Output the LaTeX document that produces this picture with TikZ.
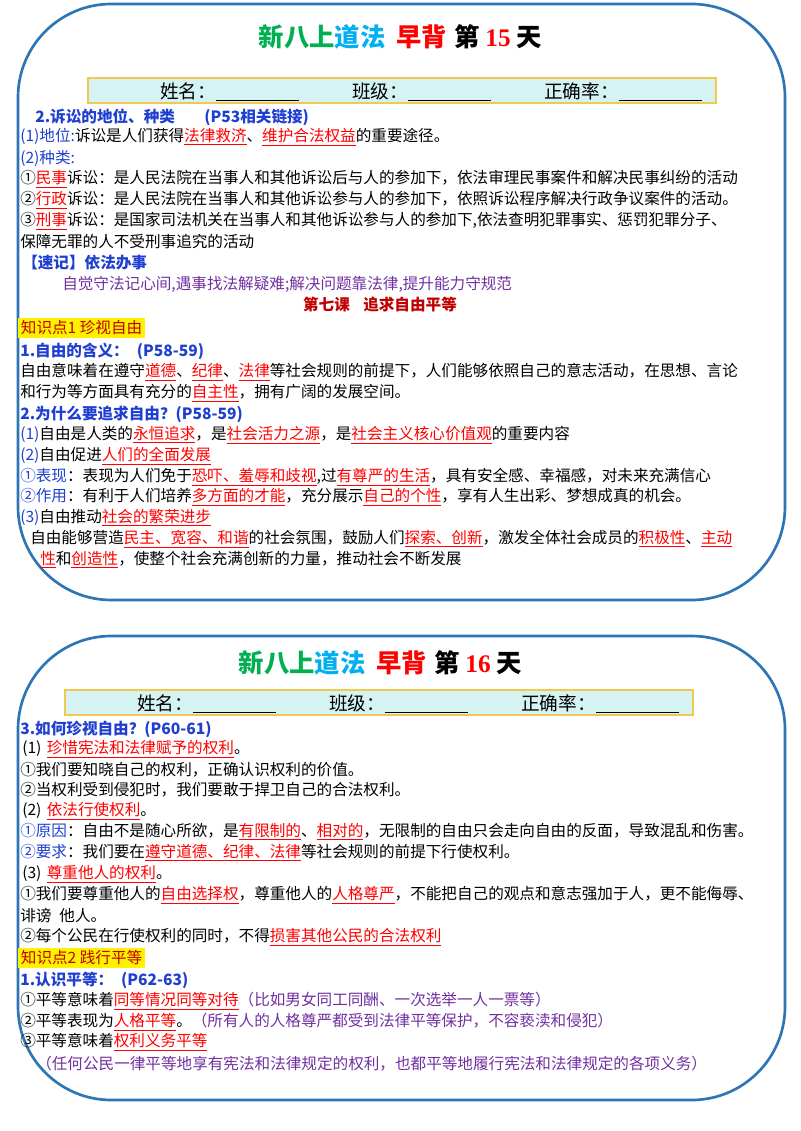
\documentclass[tikz,border=0pt]{standalone}
\usepackage{fontspec}
\setmainfont{Noto Sans CJK SC}
\usepackage{xcolor}
\usepackage{tikz}
\usetikzlibrary{calc}

\definecolor{frameblue}{HTML}{2E75B6}
\definecolor{headblue}{HTML}{1F3FD0}
\definecolor{notepurple}{HTML}{7030A0}
\definecolor{lessonred}{HTML}{C00000}
\definecolor{titlegreen}{HTML}{00B050}
\definecolor{titlecyan}{HTML}{00B0F0}
\definecolor{barfill}{HTML}{D5F3F3}
\definecolor{bargold}{HTML}{F2C94C}

\newcommand{\keyw}[1]{\textcolor{red}{\underline{#1}}}
\newcommand{\blank}{\underline{\hspace{62pt}}}
\newcommand{\daytitle}[1]{\textcolor{titlegreen}{新八上}\textcolor{titlecyan}{道法}\hspace{8pt}\textcolor{red}{早背}\hspace{6pt}第\hspace{4pt}\textcolor{red}{\fontspec{Liberation Serif}#1}\hspace{4pt}天}

\tikzset{
  line/.style={anchor=west, inner sep=0pt, font=\fontsize{11.7}{13}\selectfont},
  head/.style={line, text=headblue, font=\fontsize{11.7}{13}\selectfont\bfseries},
  note/.style={line, text=notepurple},
  tag/.style={line, fill=yellow, text=lessonred, inner sep=2pt},
  frame/.style={draw=frameblue, line width=2pt, rounded corners=70pt},
  namebar/.style={draw=bargold, line width=1.2pt, fill=barfill},
  title/.style={font=\fontsize{19}{22}\selectfont\bfseries}
}

\begin{document}
\begin{tikzpicture}[x=0.75pt, y=-0.75pt]
  \useasboundingbox (0,0) rectangle (800,1131);

  % first day
  \draw[frame] (18,4) rectangle (785,600);
  \node[title] (t15) at (400,37) {\daytitle{15}};
  \draw[namebar] (88,78) rectangle (716,103);
  \node[line, font=\fontsize{14}{16}\selectfont] (n15) at (160,92) {姓名：\blank\hspace{40pt}班级：\blank\hspace{40pt}正确率：\blank};
  \node[head] (a1) at (35,117) {2.诉讼的地位、种类\hspace{22pt}(P53相关链接)};
  \node[line] (a2) at (20,137) {\textcolor{headblue}{(1)地位:}诉讼是人们获得\keyw{法律救济}、\keyw{维护合法权益}的重要途径。};
  \node[line] (a3) at (20,158) {\textcolor{headblue}{(2)种类:}};
  \node[line] (a4) at (20,179) {①\keyw{民事}诉讼：是人民法院在当事人和其他诉讼后与人的参加下，依法审理民事案件和解决民事纠纷的活动};
  \node[line] (a5) at (20,200) {②\keyw{行政}诉讼：是人民法院在当事人和其他诉讼参与人的参加下，依照诉讼程序解决行政争议案件的活动。};
  \node[line] (a6) at (20,221) {③\keyw{刑事}诉讼：是国家司法机关在当事人和其他诉讼参与人的参加下,依法查明犯罪事实、惩罚犯罪分子、};
  \node[line] (a7) at (20,242) {保障无罪的人不受刑事追究的活动};
  \node[head] (a8) at (22,263) {【速记】依法办事};
  \node[note] (a9) at (62,284) {自觉守法记心间,遇事找法解疑难;解决问题靠法律,提升能力守规范};
  \node[line, anchor=center, text=lessonred, font=\fontsize{11.7}{13}\selectfont\bfseries] (c7) at (380,305) {第七课\hspace{10pt}追求自由平等};
  \node[tag] (k1) at (18,328) {知识点1 珍视自由};
  \node[head] (b1) at (20,351) {1.自由的含义：\hspace{6pt}(P58-59)};
  \node[line] (b2) at (20,372) {自由意味着在遵守\keyw{道德}、\keyw{纪律}、\keyw{法律}等社会规则的前提下，人们能够依照自己的意志活动，在思想、言论};
  \node[line] (b3) at (20,393) {和行为等方面具有充分的\keyw{自主性}，拥有广阔的发展空间。};
  \node[head] (b4) at (20,414) {2.为什么要追求自由？(P58-59)};
  \node[line] (b5) at (20,435) {\textcolor{headblue}{(1)}自由是人类的\keyw{永恒追求}，是\keyw{社会活力之源}，是\keyw{社会主义核心价值观}的重要内容};
  \node[line] (b6) at (20,456) {\textcolor{headblue}{(2)}自由促进\keyw{人们的全面发展}};
  \node[line] (b7) at (20,477) {\textcolor{headblue}{①表现}：表现为人们免于\keyw{恐吓、羞辱和歧视},过\keyw{有尊严的生活}，具有安全感、幸福感，对未来充满信心};
  \node[line] (b8) at (20,497) {\textcolor{headblue}{②作用}：有利于人们培养\keyw{多方面的才能}，充分展示\keyw{自己的个性}，享有人生出彩、梦想成真的机会。};
  \node[line] (b9) at (20,518) {\textcolor{headblue}{(3)}自由推动\keyw{社会的繁荣进步}};
  \node[line] (b10) at (30,539) {自由能够营造\keyw{民主、宽容、和谐}的社会氛围，鼓励人们\keyw{探索、创新}，激发全体社会成员的\keyw{积极性}、\keyw{主动}};
  \node[line] (b11) at (40,560) {\keyw{性}和\keyw{创造性}，使整个社会充满创新的力量，推动社会不断发展};

  % second day
  \draw[frame] (18,636) rectangle (785,1100);
  \node[title] (t16) at (380,663) {\daytitle{16}};
  \draw[namebar] (65,690) rectangle (693,715);
  \node[line, font=\fontsize{14}{16}\selectfont] (n16) at (137,704) {姓名：\blank\hspace{40pt}班级：\blank\hspace{40pt}正确率：\blank};
  \node[head] (d1) at (20,729) {3.如何珍视自由？(P60-61)};
  \node[line] (d2) at (22,749) {(1)\hspace{4pt}\keyw{珍惜宪法和法律赋予的权利}。};
  \node[line] (d3) at (20,770) {①我们要知晓自己的权利，正确认识权利的价值。};
  \node[line] (d4) at (20,790) {②当权利受到侵犯时，我们要敢于捍卫自己的合法权利。};
  \node[line] (d5) at (22,811) {(2)\hspace{4pt}\keyw{依法行使权利}。};
  \node[line] (d6) at (20,832) {\textcolor{headblue}{①原因}：自由不是随心所欲，是\keyw{有限制的}、\keyw{相对的}，无限制的自由只会走向自由的反面，导致混乱和伤害。};
  \node[line] (d7) at (20,853) {\textcolor{headblue}{②要求}：我们要在\keyw{遵守道德、纪律、法律}等社会规则的前提下行使权利。};
  \node[line] (d8) at (22,874) {(3)\hspace{4pt}\keyw{尊重他人的权利}。};
  \node[line] (d9) at (20,895) {①我们要尊重他人的\keyw{自由选择权}，尊重他人的\keyw{人格尊严}，不能把自己的观点和意志强加于人，更不能侮辱、};
  \node[line] (d10) at (20,916) {诽谤\hspace{6pt}他人。};
  \node[line] (d11) at (20,937) {②每个公民在行使权利的同时，不得\keyw{损害其他公民的合法权利}};
  \node[tag] (k2) at (18,958) {知识点2 践行平等};
  \node[head] (e1) at (20,980) {1.认识平等：\hspace{6pt}(P62-63)};
  \node[line] (e2) at (20,1001) {①平等意味着\keyw{同等情况同等对待}\textcolor{notepurple}{（比如男女同工同酬、一次选举一人一票等）}};
  \node[line] (e3) at (20,1022) {②平等表现为\keyw{人格平等}。\textcolor{notepurple}{（所有人的人格尊严都受到法律平等保护，不容亵渎和侵犯）}};
  \node[line] (e4) at (20,1042) {③平等意味着\keyw{权利义务平等}};
  \node[note] (e5) at (36,1064) {（任何公民一律平等地享有宪法和法律规定的权利，也都平等地履行宪法和法律规定的各项义务）};
\end{tikzpicture}
\end{document}
